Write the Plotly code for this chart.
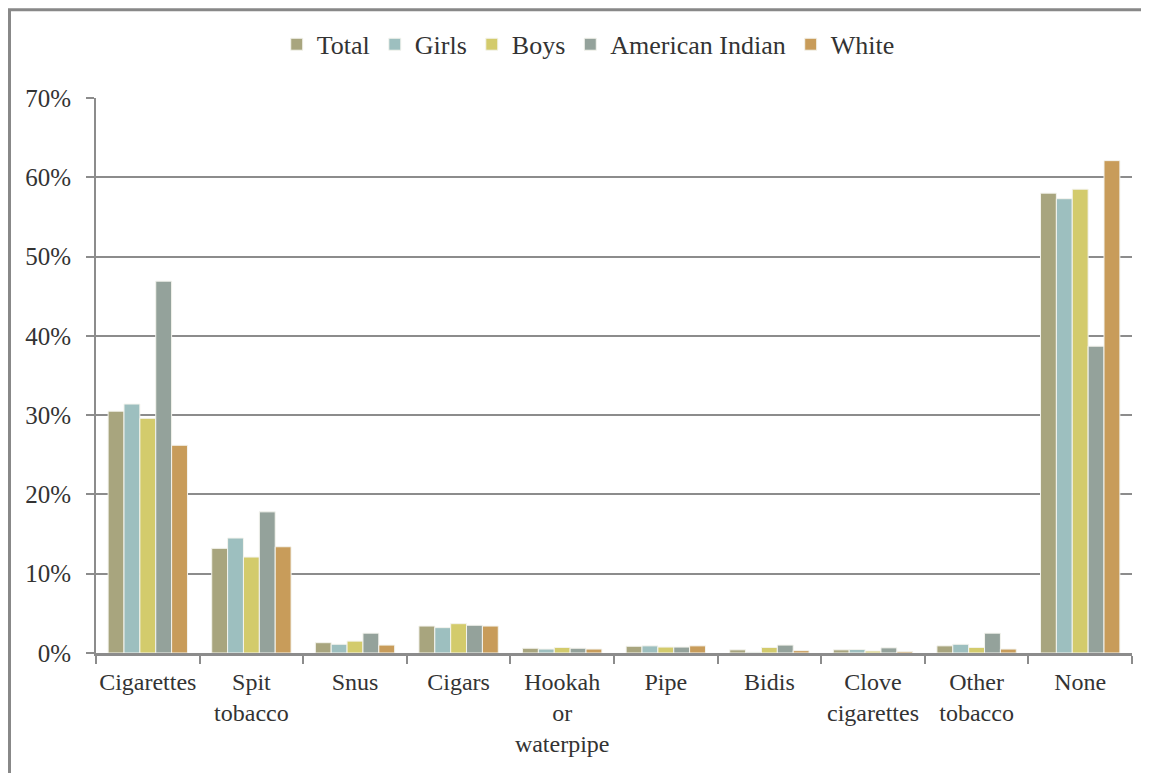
import plotly.graph_objects as go

categories = ["Cigarettes", "Spit<br>tobacco", "Snus", "Cigars", "Hookah<br>or<br>waterpipe",
              "Pipe", "Bidis", "Clove<br>cigarettes", "Other<br>tobacco", "None"]

total = [30.5, 13.2, 1.3, 3.4, 0.6, 0.85, 0.4, 0.4, 0.9, 58.0]
girls = [31.4, 14.5, 1.1, 3.2, 0.5, 0.9, 0.1, 0.45, 1.1, 57.3]
boys = [29.6, 12.1, 1.5, 3.7, 0.7, 0.75, 0.7, 0.25, 0.7, 58.5]
american_indian = [46.9, 17.8, 2.5, 3.5, 0.6, 0.75, 1.0, 0.65, 2.5, 38.7]
white = [26.2, 13.4, 1.0, 3.4, 0.5, 0.9, 0.3, 0.2, 0.5, 62.1]

series = [
    ("Total", total, "#A8A57E"),
    ("Girls", girls, "#9DBFBF"),
    ("Boys", boys, "#D3CB6C"),
    ("American Indian", american_indian, "#94A29B"),
    ("White", white, "#C89C5A"),
]

fig = go.Figure()
for name, vals, col in series:
    fig.add_trace(go.Bar(name=name, x=categories, y=[v / 100 for v in vals],
                         marker=dict(color=col, line=dict(color="#F4F4EE", width=1))))

font = "Liberation Serif"
# plot area: 1036 x 555 px
fig.update_layout(
    width=1149, height=773,
    barmode="group", bargap=0.234, bargroupgap=0,
    plot_bgcolor="white", paper_bgcolor="white",
    font=dict(family=font, size=25, color="#333333"),
    margin=dict(l=88, r=25, t=90, b=128),
    legend=dict(orientation="h", x=0.505, xanchor="center", xref="container",
                y=0.953, yanchor="middle", yref="container", bgcolor="rgba(0,0,0,0)",
                font=dict(family=font, size=26), traceorder="normal", itemwidth=30),
    shapes=[dict(type="rect", xref="paper", yref="paper", x0=-0.0835, x1=1.1, y0=-0.4, y1=1.159,
                 line=dict(color="#888888", width=3))],
)
fig.update_yaxes(range=[0, 0.7], dtick=0.1, tickformat=".0%", showgrid=True,
                 gridcolor="#8C8C8C", gridwidth=2, showline=True, linecolor="#8C8C8C",
                 linewidth=2, ticks="outside", ticklen=8, tickcolor="#8C8C8C", tickwidth=2,
                 zeroline=False, ticklabelstandoff=10, tickfont=dict(size=25))
fig.update_xaxes(showline=True, linecolor="#8C8C8C", linewidth=3, ticks="outside",
                 tickson="boundaries", ticklen=8, tickcolor="#8C8C8C", tickwidth=2,
                 ticklabelstandoff=5, tickfont=dict(size=24), tickangle=0, automargin=False)

fig.write_html("out.html")
